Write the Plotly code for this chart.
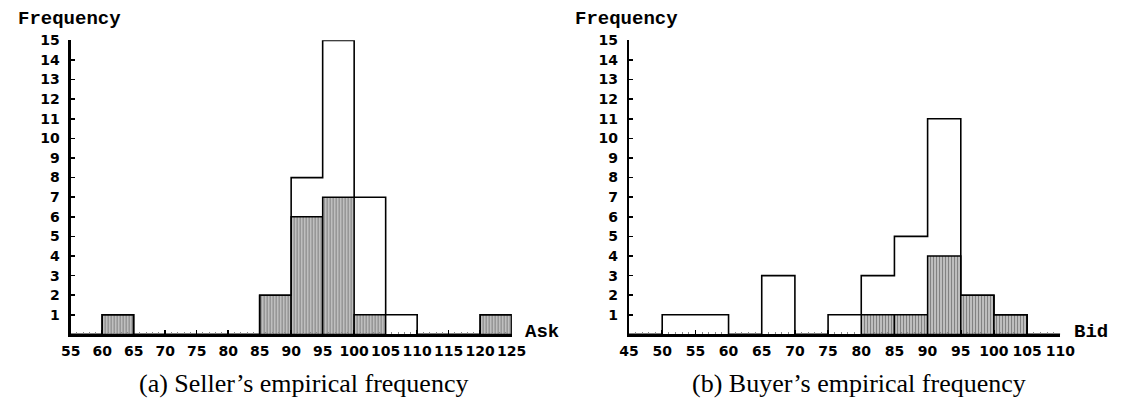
import plotly.graph_objects as go

# ---------------- data ----------------
seller_edges = [55, 60, 65, 70, 75, 80, 85, 90, 95, 100, 105, 110, 115, 120, 125]
seller_total = [0, 1, 0, 0, 0, 0, 2, 8, 15, 7, 1, 0, 0, 1]
seller_shaded = [0, 1, 0, 0, 0, 0, 2, 6, 7, 1, 0, 0, 0, 1]

buyer_edges = [45, 50, 55, 60, 65, 70, 75, 80, 85, 90, 95, 100, 105, 110]
buyer_total = [0, 1, 1, 0, 3, 0, 1, 3, 5, 11, 2, 1, 0]
buyer_shaded = [0, 0, 0, 0, 0, 0, 0, 1, 1, 4, 2, 1, 0]

freq_ticks = list(range(1, 16))
seller_ticks = list(range(55, 126, 5))
buyer_ticks = list(range(45, 111, 5))

# ---------------- figure ----------------
W, H = 1133, 404
fig = go.Figure()


def add_hist(edges, total, shaded, xa, ya, name):
    # open outline (step)
    fig.add_trace(go.Scatter(
        x=edges, y=list(total) + [0], mode="lines", line_shape="hv",
        line=dict(color="black", width=1.6), xaxis=xa, yaxis=ya,
        cliponaxis=False, showlegend=False, name=name + " (all)",
        hoverinfo="skip"))
    # shaded bars
    cx, cy = [], []
    for i, v in enumerate(shaded):
        if v > 0:
            cx.append((edges[i] + edges[i + 1]) / 2)
            cy.append(v)
    fig.add_trace(go.Bar(
        x=cx, y=cy, width=edges[1] - edges[0], xaxis=xa, yaxis=ya,
        marker=dict(color="#c8c8c8",
                    line=dict(color="black", width=1.5),
                    pattern=dict(shape="|", fgcolor="#333333", bgcolor="#cccccc",
                                 size=3, solidity=0.45)),
        showlegend=False, name=name))


add_hist(seller_edges, seller_total, seller_shaded, "x", "y", "Seller")
add_hist(buyer_edges, buyer_total, buyer_shaded, "x2", "y2", "Buyer")

ybot = (H - 333) / H
ytop = (H - 33) / H

tickfont = dict(family="DejaVu Sans", size=14, color="black", weight="bold")

xcommon = dict(showline=True, linecolor="black", linewidth=2.2, showgrid=False,
               zeroline=False, ticks="inside", ticklen=4, tickwidth=1.5,
               tickcolor="black", tickfont=tickfont, ticklabelstandoff=3,
               minor=dict(ticks="inside", ticklen=2, tickwidth=1, dtick=1,
                          tickcolor="#888888", showgrid=False),
               fixedrange=True)
ycommon = dict(showline=True, linecolor="black", linewidth=2.2, showgrid=False,
               zeroline=False, ticks="inside", ticklen=4, tickwidth=1.5,
               tickcolor="black", tickfont=tickfont, tickvals=freq_ticks,
               ticklabelstandoff=6, range=[0, 15], fixedrange=True)

fig.update_layout(
    width=W, height=H,
    margin=dict(l=0, r=0, t=0, b=0),
    paper_bgcolor="white", plot_bgcolor="white",
    xaxis=dict(xcommon, domain=[62 / W, 513 / W], range=[55, 125],
               tickvals=seller_ticks, anchor="y"),
    yaxis=dict(ycommon, domain=[ybot, ytop], anchor="x"),
    xaxis2=dict(xcommon, domain=[633 / W, 1074 / W], range=[45, 110],
                tickvals=buyer_ticks, anchor="y2"),
    yaxis2=dict(ycommon, domain=[ybot, ytop], anchor="x2"),
    barmode="overlay",
)

labfont = dict(family="Liberation Mono", size=19, color="black", weight="bold")
capfont = dict(family="Liberation Serif", size=26, color="black")


def ann(text, x, y, font, xanchor="left"):
    fig.add_annotation(text=text, x=x / W, y=1 - y / H, xref="paper", yref="paper",
                       xanchor=xanchor, yanchor="middle", showarrow=False, font=font)


ann("Frequency", 6, 11, labfont)
ann("Frequency", 576, 11, labfont)
ann("Ask", 525, 331, labfont)
ann("Bid", 1086, 331, labfont)
ann("(a) Seller’s empirical frequency", 300, 383, capfont, "center")
ann("(b) Buyer’s empirical frequency", 868, 383, capfont, "center")

fig.write_html("out.html",
               config={"displayModeBar": False, "staticPlot": True},
               post_script="document.body.style.margin='0';document.body.style.overflow='hidden';")
